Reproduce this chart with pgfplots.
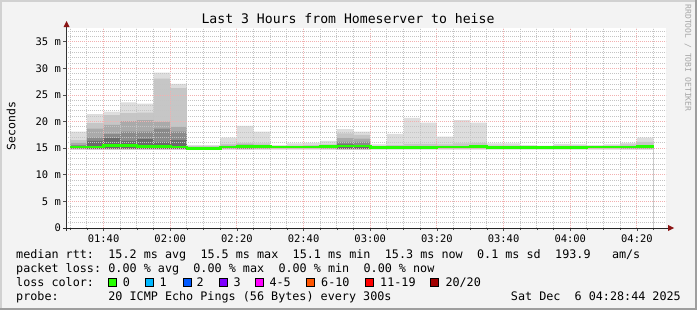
\documentclass[border=0pt]{standalone}
\usepackage{pgfplots}
\pgfplotsset{compat=1.18}
\usepackage{pgfplotstable}
\usepackage{fontspec}
\setmainfont{DejaVu Sans Mono}
\newfontfamily\mono{DejaVu Sans Mono}
\definecolor{bg}{HTML}{F3F3F3}
\definecolor{sa}{HTML}{DDDDDD}
\definecolor{sb}{HTML}{C6C6C6}
\definecolor{sc}{HTML}{AAAAAA}
\definecolor{sd}{HTML}{8A8A8A}
\definecolor{se}{HTML}{6A6A6A}
\definecolor{med}{HTML}{26FF00}
\definecolor{mgrid}{HTML}{F2B0B0}
\definecolor{ngrid}{HTML}{C4C4C4}
\definecolor{arrowred}{HTML}{8B1515}
\definecolor{l0}{HTML}{26FF00}
\definecolor{l1}{HTML}{00B8FF}
\definecolor{l2}{HTML}{0059FF}
\definecolor{l3}{HTML}{7E00FF}
\definecolor{l4}{HTML}{FF00FF}
\definecolor{l6}{HTML}{FF5500}
\definecolor{l11}{HTML}{FF0000}
\definecolor{l20}{HTML}{A10000}
\pgfplotstableread{
x a b c d e w med
90 18.1 16.5 16.0 15.6 14.7 14.8 15.2
95 21.4 19.7 18.7 17.0 16.4 14.8 15.2
100 21.9 21.2 19.4 17.7 16.9 14.8 15.5
105 23.6 21.6 20.1 18.1 16.4 14.8 15.5
110 23.4 21.7 20.3 18.1 16.7 14.8 15.3
115 29.2 28.1 20.0 18.7 16.2 14.8 15.3
120 27.1 26.3 19.0 18.1 16.5 14.8 15.2
125 15.6 15.4 14.7 14.7 14.7 14.8 15.0
130 15.6 15.4 14.7 14.7 14.7 14.8 15.0
135 17.0 15.8 15.5 14.7 14.7 14.8 15.2
140 19.2 16.0 15.7 15.5 14.7 14.8 15.3
145 18.1 15.9 15.6 14.7 14.7 14.8 15.3
150 15.6 15.4 14.7 14.7 14.7 14.8 15.2
155 15.9 15.5 14.7 14.7 14.7 14.8 15.2
160 16.0 15.6 14.7 14.7 14.7 14.8 15.2
165 16.4 15.7 15.5 14.7 14.7 14.8 15.3
170 18.6 17.8 16.9 16.2 15.7 14.8 15.4
175 18.1 17.5 16.8 16.2 15.6 14.8 15.4
180 15.7 15.4 14.7 14.7 14.7 14.8 15.1
185 17.7 15.6 14.7 14.7 14.7 14.8 15.1
190 20.7 15.8 14.7 14.7 14.7 14.8 15.1
195 19.8 15.8 14.7 14.7 14.7 14.8 15.1
200 17.2 15.7 14.7 14.7 14.7 14.8 15.2
205 20.3 15.9 14.7 14.7 14.7 14.8 15.2
210 19.8 16.0 14.7 14.7 14.7 14.8 15.3
215 15.9 15.5 14.7 14.7 14.7 14.8 15.1
220 15.9 15.5 14.7 14.7 14.7 14.8 15.1
225 15.6 15.4 14.7 14.7 14.7 14.8 15.1
230 15.5 15.3 14.7 14.7 14.7 14.8 15.1
235 15.8 15.5 14.7 14.7 14.7 14.8 15.1
240 15.7 15.5 14.7 14.7 14.7 14.8 15.1
245 15.6 15.4 14.7 14.7 14.7 14.8 15.2
250 15.7 15.5 14.7 14.7 14.7 14.8 15.2
255 16.0 15.7 15.4 14.7 14.7 14.8 15.2
260 17.0 16.2 15.5 14.7 14.7 14.8 15.3
265 17.0 16.2 15.5 14.7 14.7 14.8 15.3
}\smoke
\newcommand{\lgd}[3]{\node[anchor=base west,inner sep=0pt,font=\mono\fontsize{11.8}{13}\selectfont] at (#1,310-#2) {#3};}
\newcommand{\lbox}[2]{\filldraw[fill=#2,draw=black,line width=0.9bp] (#1,310-286) rectangle ++(8,8);}
\begin{document}
\begin{tikzpicture}[x=1bp,y=1bp]
\useasboundingbox (0,0) rectangle (697,310);
\fill[bg] (0,0) rectangle (697,310);
\fill[black!18] (0,308) rectangle (697,310);
\fill[black!18] (0,0) rectangle (2,310);
\fill[black!38] (0,0) rectangle (697,2);
\fill[black!38] (695,0) rectangle (697,310);
\begin{axis}[
  at={(66bp,82bp)}, anchor=south west,
  scale only axis, width=600bp, height=200bp,
  xmin=88.73, xmax=268.73, ymin=0, ymax=37.6,
  axis background/.style={fill=white},
  axis on top,
  axis x line*=bottom, axis y line*=left,
  axis line style={draw=none},
  xtick={100,120,...,260},
  xticklabels={01:40,02:00,02:20,02:40,03:00,03:20,03:40,04:00,04:20},
  minor xtick={90,95,...,265},
  ytick={0,5,...,35},
  yticklabels={0,5 m,10 m,15 m,20 m,25 m,30 m,35 m},
  minor ytick={1,2,...,37},
  grid=both,
  major grid style={mgrid, line width=1bp, dash pattern=on 1bp off 1bp},
  minor grid style={ngrid, line width=1bp, dash pattern=on 1bp off 1bp},
  tick align=outside,
  major tick length=3bp, minor tick length=2bp,
  tick style={black!70, line width=0.8bp},
  minor y tick style={draw=none},
  /pgf/number format/assume math mode=true,
  ticklabel style={font=\mono\fontsize{10.5}{12}\selectfont, text=black},
  xticklabel style={anchor=base, yshift=-11bp},
  yticklabel style={anchor=east, inner sep=0pt, xshift=-2bp},
]
\addplot[const plot, fill=sa, draw=none] table[x=x,y=a] {\smoke} \closedcycle;
\addplot[const plot, fill=sb, draw=none] table[x=x,y=b] {\smoke} \closedcycle;
\addplot[const plot, fill=sc, draw=none] table[x=x,y=c] {\smoke} \closedcycle;
\addplot[const plot, fill=sd, draw=none] table[x=x,y=d] {\smoke} \closedcycle;
\addplot[const plot, fill=se, draw=none] table[x=x,y=e] {\smoke} \closedcycle;
\addplot[const plot, fill=white, draw=none] table[x=x,y=w] {\smoke} \closedcycle;
\end{axis}
\begin{axis}[
  at={(66bp,82bp)}, anchor=south west,
  scale only axis, width=600bp, height=200bp,
  xmin=88.73, xmax=268.73, ymin=0, ymax=37.6,
  hide axis, clip=true,
]
\addplot[const plot, draw=med, line width=2.6bp] table[x=x,y=med] {\smoke};
\end{axis}
% axis lines and arrows
\draw[black!80, line width=1bp] (66.5,310-231) -- (66.5,310-27);
\draw[black!85, line width=1bp] (63,310-228) -- (668,310-228);
\fill[arrowred] (63.5,310-27) -- (69.5,310-27) -- (66.5,310-21) -- cycle;
\fill[arrowred] (668,310-225) -- (668,310-231) -- (674,310-228) -- cycle;
% title and labels
\node[font=\mono\fontsize{13.2}{15}\selectfont, inner sep=0pt] at (348,310-19) {Last 3 Hours from Homeserver to heise};
\node[font=\mono\fontsize{11.5}{13}\selectfont, rotate=90, inner sep=0pt] at (11,310-126) {Seconds};
\node[font=\mono\fontsize{8.1}{9}\selectfont, rotate=-90, inner sep=0pt, text=black!35] at (688,310-58) {RRDTOOL / TOBI OETIKER};
% legend
\lgd{16}{258.5}{median rtt:}
\lgd{108.2}{258.5}{15.2 ms avg}
\lgd{200.3}{258.5}{15.5 ms max}
\lgd{292.5}{258.5}{15.1 ms min}
\lgd{384.7}{258.5}{15.3 ms now}
\lgd{476.9}{258.5}{0.1 ms sd}
\lgd{555}{258.5}{193.9}
\lgd{611.8}{258.5}{am/s}
\lgd{16}{272.6}{packet loss:}
\lgd{108.2}{272.6}{0.00 \% avg}
\lgd{193.2}{272.6}{0.00 \% max}
\lgd{278.3}{272.6}{0.00 \% min}
\lgd{363.4}{272.6}{0.00 \% now}
\lgd{16}{286.2}{loss color:}
\lbox{108.7}{l0}\lgd{122.6}{286.2}{0}
\lbox{145.3}{l1}\lgd{159.3}{286.2}{1}
\lbox{183}{l2}\lgd{196.3}{286.2}{2}
\lbox{219}{l3}\lgd{233.3}{286.2}{3}
\lbox{255.3}{l4}\lgd{269.3}{286.2}{4-5}
\lbox{306.7}{l6}\lgd{321}{286.2}{6-10}
\lbox{365}{l11}\lgd{380}{286.2}{11-19}
\lbox{430.7}{l20}\lgd{445.3}{286.2}{20/20}
\lgd{16}{300.8}{probe:}
\lgd{108.2}{300.8}{20 ICMP Echo Pings (56 Bytes) every 300s}
\node[anchor=base east,inner sep=0pt,font=\mono\fontsize{11.8}{13}\selectfont] at (681,310-300.8) {Sat Dec\ \ 6 04:28:44 2025};
\end{tikzpicture}
\end{document}
